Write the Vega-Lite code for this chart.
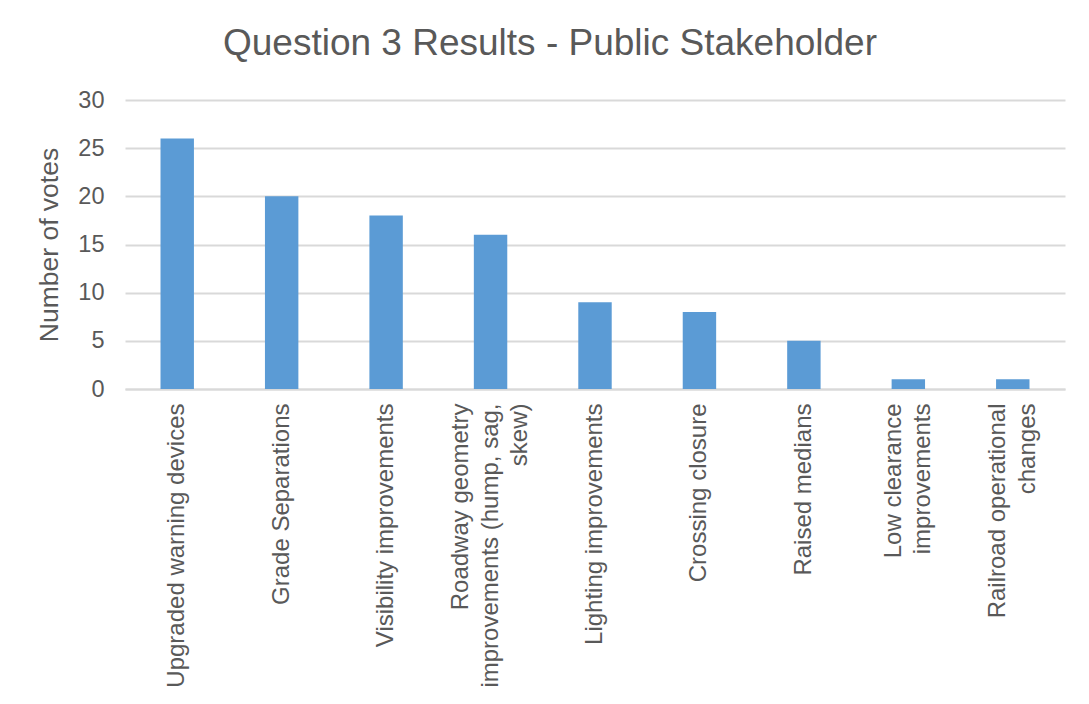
{
  "$schema": "https://vega.github.io/schema/vega-lite/v6.json",
  "autosize": {"type": "none"},
  "width": 940,
  "height": 289,
  "padding": {"left": 125, "top": 100, "right": 24, "bottom": 315},
  "background": "white",
  "title": {
    "text": "Question 3 Results - Public Stakeholder",
    "font": "Liberation Sans",
    "fontSize": 37,
    "fontWeight": "normal",
    "color": "#595959",
    "anchor": "middle",
    "dx": -45,
    "offset": 25
  },
  "data": {
    "values": [
      {"measure": "Upgraded warning devices", "votes": 26},
      {"measure": "Grade Separations", "votes": 20},
      {"measure": "Visibility improvements", "votes": 18},
      {"measure": "Roadway geometry|improvements (hump, sag,|skew)", "votes": 16},
      {"measure": "Lighting improvements", "votes": 9},
      {"measure": "Crossing closure", "votes": 8},
      {"measure": "Raised medians", "votes": 5},
      {"measure": "Low clearance|improvements", "votes": 1},
      {"measure": "Railroad operational|changes", "votes": 1}
    ]
  },
  "mark": {"type": "bar", "color": "#5B9BD5"},
  "encoding": {
    "x": {
      "field": "measure",
      "type": "nominal",
      "sort": null,
      "scale": {"paddingInner": 0.68, "paddingOuter": 0.34},
      "axis": {
        "title": null,
        "labelExpr": "split(datum.label, '|')",
        "labelAngle": -90,
        "labelAlign": "right",
        "labelBaseline": "middle",
        "labelFont": "Liberation Sans",
        "labelFontSize": 24,
        "labelLineHeight": 29.5,
        "labelColor": "#595959",
        "labelPadding": 14,
        "labelLimit": 0,
        "labelOffset": {
          "condition": [
            {"test": "length(split(datum.value, '|')) == 3", "value": -29.5},
            {"test": "length(split(datum.value, '|')) == 2", "value": -14.75}
          ],
          "value": 0
        },
        "ticks": false,
        "domain": true,
        "domainColor": "#D9D9D9",
        "domainWidth": 2,
        "grid": false
      }
    },
    "y": {
      "field": "votes",
      "type": "quantitative",
      "scale": {"domain": [0, 30], "nice": false},
      "axis": {
        "title": "Number of votes",
        "titleFont": "Liberation Sans",
        "titleFontSize": 26.5,
        "titleFontWeight": "normal",
        "titleColor": "#595959",
        "titlePadding": 14,
        "values": [0, 5, 10, 15, 20, 25, 30],
        "labelFont": "Liberation Sans",
        "labelFontSize": 23.5,
        "labelColor": "#595959",
        "labelPadding": 21,
        "ticks": false,
        "domain": false,
        "grid": true,
        "gridColor": "#D9D9D9",
        "gridWidth": 2
      }
    }
  },
  "config": {"view": {"stroke": null}}
}
